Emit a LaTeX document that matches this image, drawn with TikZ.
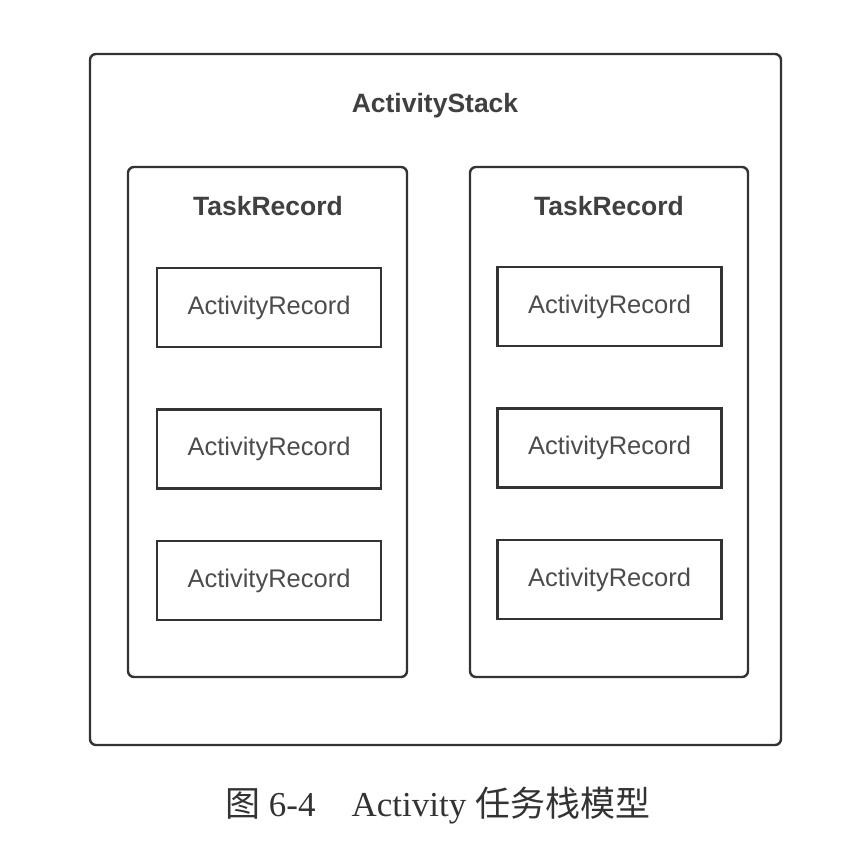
\documentclass[tikz,border=0pt]{standalone}
\usepackage{fontspec}
\setmainfont{Liberation Serif}
\setsansfont{Liberation Sans}
\newfontfamily\cjk{Noto Sans CJK SC}
\begin{document}
\begin{tikzpicture}[x=1pt,y=1pt,
  frame/.style={draw=black!80,line width=2.4pt,rounded corners=6pt},
  arbox/.style={draw=black!80,line width=2.4pt,minimum width=224pt,minimum height=79pt,inner sep=0pt,
     font=\sffamily\fontsize{25.5}{29}\selectfont,text=black!70},
  title/.style={font=\sffamily\bfseries\fontsize{26.5}{30}\selectfont,text=black!75}]
\useasboundingbox (0,0) rectangle (846,854);
% outer ActivityStack
\draw[frame] (90,800) rectangle (781,109);
\node[title] (stack) at (435,748) {ActivityStack};
% task records
\draw[frame] (128,687) rectangle (407,177);
\draw[frame] (470,687) rectangle (748,177);
\node[title] (t1) at (268,648) {TaskRecord};
\node[title] (t2) at (609,648) {TaskRecord};
% activity records
\node[arbox] (a11) at (269,546.5) {ActivityRecord};
\node[arbox] (a12) at (269,405) {ActivityRecord};
\node[arbox] (a13) at (269,273.5) {ActivityRecord};
\node[arbox] (a21) at (609.5,547.5) {ActivityRecord};
\node[arbox] (a22) at (609.5,406) {ActivityRecord};
\node[arbox] (a23) at (609.5,274.5) {ActivityRecord};
% caption
\node[font=\fontsize{35}{40}\selectfont,text=black!80,anchor=base west,inner sep=0pt] (cap) at (225,37)
  {{\cjk 图} 6-4\hspace{36pt}Activity {\cjk 任务栈模型}};
\end{tikzpicture}
\end{document}
